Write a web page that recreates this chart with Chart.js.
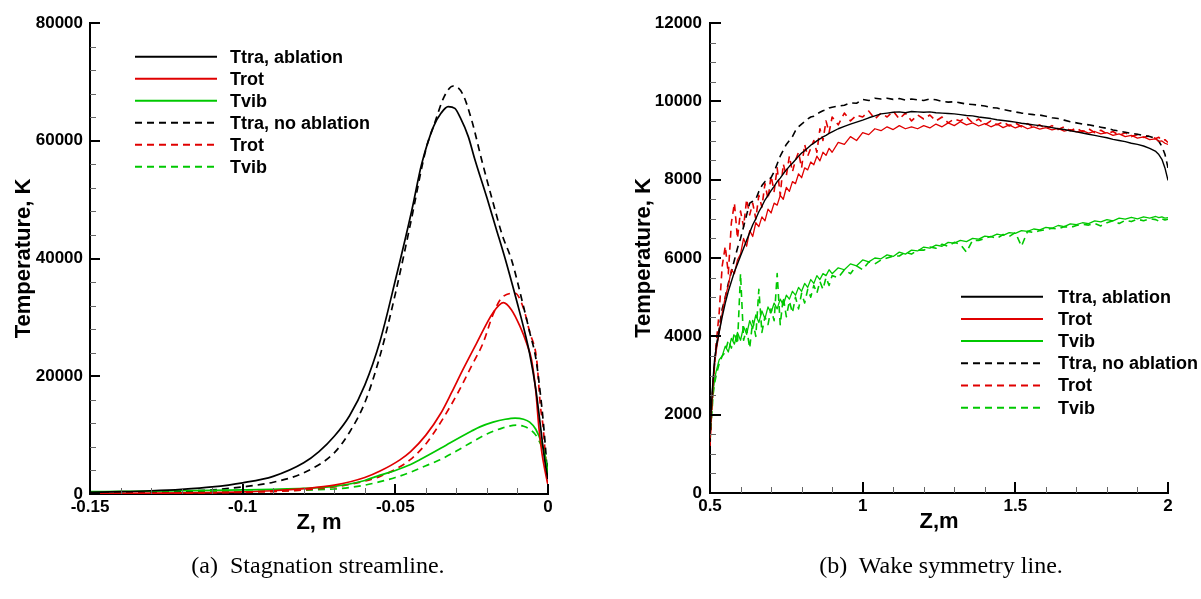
<!DOCTYPE html>
<html>
<head>
<meta charset="utf-8">
<script src="https://cdn.jsdelivr.net/npm/chart.js@4.4.1/dist/chart.umd.min.js"></script>
<style>
  html, body { margin: 0; padding: 0; background: #fff; }
  #wrap { position: relative; width: 1201px; height: 599px; background: #fff; overflow: hidden; }
  .pane { position: absolute; top: 0; }
  .cap { position: absolute; top: 553px; line-height: 24px; font-family: 'Liberation Serif', 'DejaVu Serif', serif; font-size: 24px; color: #000; transform: translateX(-50%); white-space: nowrap; }
</style>
</head>
<body>
<div id="wrap">
  <div class="pane" style="left:0;width:600px;height:599px"><canvas id="c1" width="600" height="599"></canvas></div>
  <div class="pane" style="left:600px;width:601px;height:599px"><canvas id="c2" width="601" height="599"></canvas></div>
  <div class="cap" style="left:318px">(a)&nbsp; Stagnation streamline.</div>
  <div class="cap" style="left:941px">(b)&nbsp; Wake symmetry line.</div>
</div>
<script>
// ---------------- (a) Stagnation streamline ----------------
const stagZTicks = [-0.15, -0.1, -0.05, 0];
const stagZTickLabels = ['-0.15', '-0.1', '-0.05', '0'];
const stagZMinor = [-0.14, -0.13, -0.12, -0.11, -0.09, -0.08, -0.07, -0.06, -0.04, -0.03, -0.02, -0.01];
const stagTTicks = [0, 20000, 40000, 60000, 80000];
const stagTTickLabels = ['0', '20000', '40000', '60000', '80000'];
const stagTMinor = [4000, 8000, 12000, 16000, 24000, 28000, 32000, 36000, 44000, 48000, 52000, 56000, 64000, 68000, 72000, 76000];

const stagTtraAblZ = [-0.15, -0.14, -0.13, -0.12, -0.11, -0.10, -0.09, -0.08, -0.075, -0.07, -0.065, -0.06, -0.055, -0.05, -0.0446, -0.0414, -0.0375, -0.035, -0.0327, -0.0305, -0.0288, -0.0261, -0.024, -0.02, -0.017, -0.014, -0.01, -0.008, -0.006, -0.004, -0.003, -0.002, -0.001, 0];
const stagTtraAblT = [300, 400, 550, 800, 1200, 1900, 3000, 5300, 7200, 9800, 13300, 18500, 26000, 36300, 48200, 56000, 62400, 64700, 65800, 65500, 64000, 60700, 56900, 50300, 45100, 39900, 32300, 28300, 23800, 17800, 13800, 9500, 5500, 2500];

const stagTrotAblZ = [-0.15, -0.13, -0.11, -0.10, -0.09, -0.08, -0.07, -0.06, -0.055, -0.0485, -0.045, -0.04, -0.035, -0.0316, -0.028, -0.0234, -0.018, -0.0146, -0.012, -0.0092, -0.007, -0.0054, -0.004, -0.003, -0.002, -0.001, 0];
const stagTrotAblT = [100, 150, 250, 350, 550, 900, 1500, 2800, 3900, 5800, 7200, 10000, 13800, 17200, 21000, 25600, 30800, 32500, 31300, 28500, 25600, 22800, 17500, 11400, 7000, 4000, 1500];

const stagTvibAblZ = [-0.15, -0.14, -0.13, -0.12, -0.11, -0.10, -0.09, -0.08, -0.07, -0.065, -0.06, -0.055, -0.05, -0.045, -0.042, -0.035, -0.032, -0.025, -0.0223, -0.018, -0.014, -0.0108, -0.008, -0.006, -0.004, -0.002, -0.001, 0];
const stagTvibAblT = [400, 450, 500, 560, 620, 700, 800, 950, 1300, 1700, 2300, 3200, 4000, 5000, 5800, 7800, 8700, 10700, 11400, 12200, 12700, 12900, 12700, 12200, 11000, 8500, 6500, 3500];

const stagTtraNoZ = [-0.15, -0.14, -0.13, -0.12, -0.11, -0.10, -0.09, -0.08, -0.07, -0.065, -0.06, -0.055, -0.05, -0.045, -0.04, -0.037, -0.034, -0.031, -0.028, -0.025, -0.0217, -0.018, -0.015, -0.0119, -0.008, -0.006, -0.0039, -0.0025, -0.0015, -0.0007, 0];
const stagTtraNoT = [150, 200, 300, 450, 700, 1200, 2000, 3600, 7000, 10500, 15500, 23500, 34000, 46000, 58500, 63200, 67500, 69300, 68000, 63500, 56700, 49500, 44000, 39700, 31800, 27500, 22800, 17000, 12000, 7000, 2000];

const stagTrotNoZ = [-0.15, -0.13, -0.11, -0.10, -0.09, -0.08, -0.07, -0.06, -0.055, -0.05, -0.0452, -0.04, -0.035, -0.0295, -0.025, -0.0213, -0.018, -0.0152, -0.0108, -0.008, -0.006, -0.0037, -0.0025, -0.0016, -0.001, 0];
const stagTrotNoT = [80, 120, 200, 280, 420, 700, 1200, 2200, 3000, 4200, 5800, 8500, 12300, 17200, 21800, 25600, 30500, 33300, 34100, 31500, 27500, 22800, 15000, 11400, 7500, 1500];

const stagTvibNoZ = [-0.15, -0.13, -0.11, -0.10, -0.09, -0.08, -0.07, -0.065, -0.06, -0.055, -0.05, -0.045, -0.04, -0.0354, -0.03, -0.025, -0.02, -0.015, -0.0103, -0.008, -0.006, -0.004, -0.002, -0.001, 0];
const stagTvibNoT = [250, 300, 380, 430, 500, 650, 850, 1100, 1500, 2100, 2800, 3700, 4800, 5800, 7300, 8800, 10200, 11200, 11700, 11500, 11000, 10000, 8000, 6500, 4500];

// ---------------- (b) Wake symmetry line ----------------
const wakeZTicks = [0.5, 1, 1.5, 2];
const wakeZTickLabels = ['0.5', '1', '1.5', '2'];
const wakeZMinor = [0.6, 0.7, 0.8, 0.9, 1.1, 1.2, 1.3, 1.4, 1.6, 1.7, 1.8, 1.9];
const wakeTTicks = [0, 2000, 4000, 6000, 8000, 10000, 12000];
const wakeTTickLabels = ['0', '2000', '4000', '6000', '8000', '10000', '12000'];
const wakeTMinor = [500, 1000, 1500, 2500, 3000, 3500, 4500, 5000, 5500, 6500, 7000, 7500, 8500, 9000, 9500, 10500, 11000, 11500];

const wakeZ = [0.500, 0.505, 0.510, 0.515, 0.520, 0.53, 0.54, 0.55, 0.56, 0.57, 0.58, 0.59, 0.60, 0.61, 0.62, 0.63, 0.64, 0.65, 0.66, 0.67, 0.68, 0.69, 0.70, 0.71, 0.72, 0.73, 0.74, 0.75, 0.76, 0.77, 0.78, 0.79, 0.80, 0.81, 0.82, 0.83, 0.84, 0.85, 0.86, 0.87, 0.88, 0.89, 0.90, 0.92, 0.94, 0.96, 0.98, 1.00, 1.02, 1.04, 1.06, 1.08, 1.10, 1.12, 1.14, 1.16, 1.18, 1.20, 1.22, 1.24, 1.26, 1.28, 1.30, 1.32, 1.34, 1.36, 1.38, 1.40, 1.42, 1.44, 1.46, 1.48, 1.50, 1.52, 1.54, 1.56, 1.58, 1.60, 1.62, 1.64, 1.66, 1.68, 1.70, 1.72, 1.74, 1.76, 1.78, 1.80, 1.82, 1.84, 1.86, 1.88, 1.90, 1.92, 1.94, 1.96, 1.97, 1.98, 1.99, 2.00];

const wakeTtraAbl = [1500, 2300, 2900, 3400, 3700, 4100, 4500, 4850, 5150, 5400, 5650, 5850, 6050, 6250, 6450, 6650, 6850, 7000, 7180, 7320, 7480, 7600, 7720, 7830, 7950, 8040, 8150, 8250, 8340, 8420, 8510, 8600, 8680, 8740, 8810, 8880, 8930, 8990, 9040, 9090, 9130, 9180, 9220, 9300, 9360, 9420, 9470, 9520, 9580, 9630, 9680, 9700, 9720, 9730, 9710, 9740, 9730, 9720, 9730, 9710, 9700, 9690, 9680, 9660, 9640, 9630, 9600, 9580, 9560, 9530, 9510, 9490, 9470, 9440, 9420, 9400, 9380, 9360, 9330, 9300, 9280, 9250, 9220, 9190, 9160, 9130, 9100, 9070, 9030, 9000, 8970, 8930, 8900, 8860, 8800, 8720, 8640, 8520, 8300, 7980];

const wakeTrotAbl = [1400, 2100, 2800, 3300, 3600, 4100, 4600, 5000, 5300, 5700, 5600, 5950, 6100, 6500, 6300, 6700, 6550, 6900, 6800, 7050, 6950, 7250, 7150, 7400, 7350, 7600, 7500, 7800, 7700, 7950, 7900, 8150, 8050, 8300, 8250, 8450, 8380, 8600, 8480, 8700, 8620, 8800, 8700, 8950, 8900, 9100, 9000, 9200, 9150, 9300, 9250, 9350, 9280, 9380, 9300, 9350, 9300, 9380, 9320, 9420, 9350, 9450, 9380, 9480, 9400, 9450, 9370, 9430, 9350, 9420, 9330, 9400, 9320, 9380, 9300, 9350, 9290, 9330, 9270, 9310, 9240, 9280, 9220, 9250, 9190, 9230, 9170, 9200, 9130, 9170, 9100, 9130, 9060, 9090, 9020, 9040, 8980, 8990, 8930, 8900];

const wakeTvibAbl = [1500, 2100, 2600, 2900, 3100, 3400, 3500, 3750, 3600, 3950, 3800, 4100, 3900, 4250, 4050, 4400, 4200, 4550, 4350, 4650, 4450, 4750, 4600, 4850, 4700, 4950, 4800, 5050, 4950, 5150, 5050, 5250, 5150, 5350, 5250, 5450, 5350, 5550, 5450, 5600, 5550, 5700, 5600, 5750, 5700, 5850, 5800, 5950, 5900, 6000, 5980, 6080, 6040, 6150, 6100, 6200, 6180, 6280, 6250, 6330, 6300, 6400, 6380, 6450, 6420, 6500, 6480, 6560, 6540, 6610, 6580, 6650, 6630, 6700, 6680, 6740, 6720, 6780, 6760, 6830, 6800, 6870, 6850, 6900, 6880, 6950, 6920, 6980, 6950, 7020, 6990, 7040, 7000, 7050, 7020, 7060, 7030, 7050, 7020, 7030];

const wakeTtraNo = [1300, 2200, 2800, 3300, 3700, 4200, 4700, 5000, 5350, 5650, 5950, 6250, 6500, 6800, 7100, 7400, 7450, 7500, 7700, 7850, 7950, 8000, 8050, 8200, 8400, 8600, 8750, 8900, 9000, 9100, 9250, 9350, 9420, 9480, 9550, 9600, 9620, 9680, 9720, 9760, 9780, 9830, 9850, 9880, 9900, 9960, 9950, 10050, 10020, 10080, 10060, 10080, 10050, 10070, 10030, 10060, 10040, 10020, 10060, 10040, 10000, 9980, 9990, 9960, 9930, 9920, 9900, 9880, 9840, 9830, 9790, 9760, 9730, 9700, 9680, 9660, 9650, 9620, 9580, 9560, 9520, 9480, 9450, 9420, 9400, 9370, 9340, 9310, 9270, 9240, 9210, 9180, 9160, 9130, 9100, 9050, 8980, 8850, 8650, 8300];

const wakeTrotNo = [1200, 2000, 2600, 3300, 3800, 4600, 5800, 6300, 5600, 6900, 7400, 6500, 7200, 6800, 7500, 7100, 7400, 7000, 7600, 7300, 7900, 7500, 8100, 7700, 8300, 7600, 8400, 8100, 8600, 8200, 8500, 8700, 8300, 8900, 8600, 8800, 9000, 8700, 9300, 9000, 9500, 9200, 9600, 9400, 9700, 9500, 9650, 9600, 9750, 9550, 9700, 9600, 9750, 9550, 9700, 9500, 9650, 9550, 9650, 9500, 9600, 9450, 9550, 9500, 9600, 9450, 9550, 9400, 9500, 9400, 9480, 9370, 9450, 9350, 9430, 9330, 9400, 9300, 9380, 9280, 9350, 9250, 9320, 9220, 9300, 9200, 9260, 9170, 9230, 9130, 9200, 9100, 9150, 9080, 9120, 9050, 9080, 9000, 9020, 8950];

const wakeTvibNo = [1300, 1900, 2500, 2800, 3000, 3300, 3500, 3600, 3900, 3700, 4100, 3800, 5600, 3900, 4200, 3700, 4400, 4000, 5200, 4100, 4500, 4300, 4700, 4400, 5600, 4300, 5000, 4500, 4900, 4600, 5000, 4700, 5100, 4850, 5200, 5000, 5300, 5100, 5400, 5200, 5500, 5300, 5550, 5500, 5700, 5600, 5800, 5700, 5900, 5850, 5950, 6000, 6050, 6050, 6150, 6100, 6200, 6200, 6280, 6250, 6350, 6300, 6400, 6350, 6150, 6450, 6450, 6500, 6550, 6500, 6600, 6550, 6650, 6300, 6680, 6650, 6700, 6720, 6760, 6740, 6800, 6780, 6830, 6860, 6840, 6880, 6820, 6900, 6950, 6880, 6960, 6930, 6990, 6950, 7000, 6980, 6940, 7000, 6970, 6990];

// ---------------- helpers ----------------
const BLACK = '#000000', RED = '#e00000', GREEN = '#00c800';
const DASH = [7, 5];
function pts(xs, ys) { return xs.map((x, i) => ({ x: x, y: ys[i] })); }

const innerTicks = {
  id: 'innerTicks',
  afterDraw(chart, args, o) {
    const { ctx, chartArea: a, scales } = chart;
    const x = scales.x, y = scales.y;
    ctx.save();
    ctx.lineCap = 'butt';
    ctx.strokeStyle = o.minorColor; ctx.lineWidth = 1;
    ctx.beginPath();
    o.xMinor.forEach(v => { const p = Math.round(x.getPixelForValue(v)) + 0.5; ctx.moveTo(p, a.bottom); ctx.lineTo(p, a.bottom - o.minorLen); });
    o.yMinor.forEach(v => { const p = Math.round(y.getPixelForValue(v)) + 0.5; ctx.moveTo(a.left, p); ctx.lineTo(a.left + o.minorLen, p); });
    ctx.stroke();
    ctx.strokeStyle = '#000'; ctx.lineWidth = 2;
    ctx.beginPath();
    o.xMajor.forEach(v => { const p = Math.round(x.getPixelForValue(v)); ctx.moveTo(p, a.bottom); ctx.lineTo(p, a.bottom - o.majorLen); });
    o.yMajor.forEach(v => { const p = Math.round(y.getPixelForValue(v)); ctx.moveTo(a.left, p); ctx.lineTo(a.left + o.majorLen, p); });
    ctx.stroke();
    ctx.restore();
  }
};

const boxLegend = {
  id: 'boxLegend',
  afterDraw(chart, args, o) {
    const ctx = chart.ctx;
    chart.data.datasets.forEach((ds, i) => {
      const yy = o.y0 + i * o.dy;
      ctx.save();
      ctx.strokeStyle = ds.borderColor;
      ctx.lineWidth = o.lineWidth;
      ctx.setLineDash(ds.borderDash || []);
      ctx.beginPath(); ctx.moveTo(o.x0, yy); ctx.lineTo(o.x1, yy); ctx.stroke();
      ctx.setLineDash([]);
      ctx.fillStyle = '#000';
      ctx.font = o.font;
      ctx.textBaseline = 'middle';
      ctx.textAlign = 'left';
      ctx.fillText(ds.label, o.tx, yy + 1);
      ctx.restore();
    });
  }
};

Chart.defaults.font.family = "'Liberation Sans', Arial, Helvetica, sans-serif";
Chart.defaults.color = '#000';

function ds(label, data, color, dashed, width, smooth) {
  return {
    label: label, data: data, borderColor: color, backgroundColor: color,
    borderWidth: width, borderDash: dashed ? DASH : [], pointRadius: 0,
    fill: false, tension: 0, cubicInterpolationMode: smooth ? 'monotone' : 'default',
    borderJoinStyle: 'round'
  };
}

function axis(ticksArr, labelsArr, min, max, titleText, titleFont, titlePad, tickPad, fitFn) {
  return {
    type: 'linear', min: min, max: max,
    afterBuildTicks: s => { s.ticks = ticksArr.map(v => ({ value: v })); },
    ticks: {
      callback: (v, i) => labelsArr[ticksArr.indexOf(v)] !== undefined ? labelsArr[ticksArr.indexOf(v)] : labelsArr[i],
      font: { size: 17, weight: 'bold' }, padding: tickPad, maxRotation: 0, minRotation: 0, autoSkip: false, color: '#000'
    },
    grid: { display: false, drawTicks: false },
    border: { display: true, color: '#000', width: 2 },
    title: { display: true, text: titleText, font: { size: titleFont, weight: 'bold' }, padding: titlePad, color: '#000' },
    afterFit: fitFn
  };
}

// ---------------- chart (a) ----------------
new Chart(document.getElementById('c1'), {
  type: 'line',
  data: {
    datasets: [
      ds('Ttra, ablation', pts(stagTtraAblZ, stagTtraAblT), BLACK, false, 1.7, true),
      ds('Trot', pts(stagTrotAblZ, stagTrotAblT), RED, false, 1.7, true),
      ds('Tvib', pts(stagTvibAblZ, stagTvibAblT), GREEN, false, 1.7, true),
      ds('Ttra, no ablation', pts(stagTtraNoZ, stagTtraNoT), BLACK, true, 1.7, true),
      ds('Trot', pts(stagTrotNoZ, stagTrotNoT), RED, true, 1.7, true),
      ds('Tvib', pts(stagTvibNoZ, stagTvibNoT), GREEN, true, 1.7, true)
    ]
  },
  options: {
    responsive: false, animation: false, events: [],
    layout: { padding: { left: 0, right: 52, top: 23, bottom: 55 } },
    scales: {
      x: axis(stagZTicks, stagZTickLabels, -0.15, 0, 'Z, m', 22, { top: 0, bottom: 8 }, 3, s => { s.height = 50; }),
      y: axis(stagTTicks, stagTTickLabels, 0, 80000, 'Temperature, K', 22, { top: 11, bottom: 0 }, 7, s => { s.width = 90; })
    },
    plugins: {
      legend: { display: false }, tooltip: { enabled: false },
      innerTicks: { xMajor: stagZTicks, yMajor: stagTTicks, xMinor: stagZMinor, yMinor: stagTMinor, majorLen: 10, minorLen: 6, minorColor: '#666' },
      boxLegend: { x0: 135, x1: 217, tx: 230, y0: 56.7, dy: 22, lineWidth: 2, font: "bold 18px 'Liberation Sans', Arial, sans-serif" }
    }
  },
  plugins: [innerTicks, boxLegend]
});

// ---------------- chart (b) ----------------
new Chart(document.getElementById('c2'), {
  type: 'line',
  data: {
    datasets: [
      ds('Ttra, ablation', pts(wakeZ, wakeTtraAbl), BLACK, false, 1.4, false),
      ds('Trot', pts(wakeZ, wakeTrotAbl), RED, false, 1.3, false),
      ds('Tvib', pts(wakeZ, wakeTvibAbl), GREEN, false, 1.3, false),
      ds('Ttra, no ablation', pts(wakeZ, wakeTtraNo), BLACK, true, 1.6, false),
      ds('Trot', pts(wakeZ, wakeTrotNo), RED, true, 1.6, false),
      ds('Tvib', pts(wakeZ, wakeTvibNo), GREEN, true, 1.6, false)
    ]
  },
  options: {
    responsive: false, animation: false, events: [],
    layout: { padding: { left: 0, right: 33, top: 23, bottom: 56 } },
    scales: {
      x: axis(wakeZTicks, wakeZTickLabels, 0.5, 2, 'Z,m', 22, { top: 0, bottom: 8 }, 3, s => { s.height = 50; }),
      y: axis(wakeTTicks, wakeTTickLabels, 0, 12000, 'Temperature, K', 22, { top: 31, bottom: 0 }, 8, s => { s.width = 110; })
    },
    plugins: {
      legend: { display: false }, tooltip: { enabled: false },
      innerTicks: { xMajor: wakeZTicks, yMajor: wakeTTicks, xMinor: wakeZMinor, yMinor: wakeTMinor, majorLen: 11, minorLen: 6, minorColor: '#666' },
      boxLegend: { x0: 361, x1: 443, tx: 458, y0: 296.7, dy: 22.2, lineWidth: 2, font: "bold 18px 'Liberation Sans', Arial, sans-serif" }
    }
  },
  plugins: [innerTicks, boxLegend]
});
</script>
</body>
</html>
